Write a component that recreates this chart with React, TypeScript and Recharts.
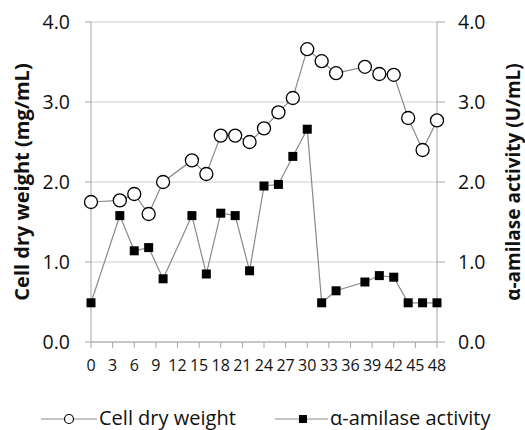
import React from "react";
import {
  LineChart,
  Line,
  XAxis,
  YAxis,
  CartesianGrid,
  Legend,
  Label,
} from "recharts";

const hours = [0, 4, 6, 8, 10, 14, 16, 18, 20, 22, 24, 26, 28, 30, 32, 34, 38, 40, 42, 44, 46, 48];
const cellDryWeight = [1.75, 1.77, 1.85, 1.6, 2.0, 2.27, 2.1, 2.58, 2.58, 2.5, 2.67, 2.87, 3.05, 3.66, 3.51, 3.36, 3.44, 3.35, 3.34, 2.8, 2.4, 2.77];
const amylaseActivity = [0.49, 1.58, 1.14, 1.18, 0.79, 1.58, 0.85, 1.61, 1.58, 0.89, 1.95, 1.97, 2.32, 2.66, 0.49, 0.64, 0.75, 0.83, 0.81, 0.49, 0.49, 0.49];
const xTicks = [0, 3, 6, 9, 12, 15, 18, 21, 24, 27, 30, 33, 36, 39, 42, 45, 48];
const yTicks = [0, 1, 2, 3, 4];
const seriesNames = ["Cell dry weight", "α-amilase activity"];
const axisTitles = ["Cell dry weight (mg/mL)", "α-amilase activity (U/mL)"];

const data = hours.map((t, i) => ({ t, cdw: cellDryWeight[i], amy: amylaseActivity[i] }));

const FONT = "'Open Sans', sans-serif";
const LINE = "#8a8a8a";
const AXIS = "#a6a6a6";
const GRID = "#cfcfcf";
const TXT = "#111";

const Square = (props: any) => {
  const { cx, cy } = props;
  if (cx == null || cy == null) return null;
  return <rect x={cx - 4.5} y={cy - 4.5} width={9} height={9} fill="#000" />;
};

const LeftTitle = (props: any) => {
  const vb = props.viewBox || {};
  const x = (vb.x || 0) + 21;
  const y = (vb.y || 0) + (vb.height || 0) / 2;
  return (
    <text
      x={x}
      y={y}
      transform={`rotate(-90 ${x} ${y})`}
      textAnchor="middle"
      dominantBaseline="central"
      fontFamily={FONT}
      fontWeight={700}
      fontSize={20}
      fill={TXT}
    >
      {axisTitles[0]}
    </text>
  );
};

const RightTitle = (props: any) => {
  const vb = props.viewBox || {};
  const x = (vb.x || 0) + 76;
  const y = (vb.y || 0) + (vb.height || 0) / 2;
  return (
    <text
      x={x}
      y={y}
      transform={`rotate(-90 ${x} ${y})`}
      textAnchor="middle"
      dominantBaseline="central"
      fontFamily={FONT}
      fontWeight={700}
      fontSize={19}
      fill={TXT}
    >
      {axisTitles[1]}
    </text>
  );
};

const LegendContent = () => (
  <div style={{ position: "relative", width: 525, height: 40, fontFamily: FONT, fontSize: 20, color: TXT }}>
    <svg width={525} height={40} style={{ position: "absolute", left: 0, top: 0 }}>
      <line x1={41} y1={29} x2={97} y2={29} stroke={LINE} strokeWidth={1.2} />
      <circle cx={69} cy={29} r={4.5} fill="#fff" stroke="#000" strokeWidth={1.2} />
      <line x1={275} y1={29} x2={328} y2={29} stroke={LINE} strokeWidth={1.2} />
      <rect x={299} y={25} width={8} height={8} fill="#000" />
    </svg>
    <span style={{ position: "absolute", left: 99, top: 16, height: 24, lineHeight: "24px", whiteSpace: "nowrap" }}>{seriesNames[0]}</span>
    <span style={{ position: "absolute", left: 330, top: 16, height: 24, lineHeight: "24px", whiteSpace: "nowrap" }}>{seriesNames[1]}</span>
  </div>
);

export default function App() {
  return (
    <div style={{ position: "absolute", left: 0, top: 0, width: 525, height: 430, background: "#fff" }}>
      <LineChart width={525} height={430} data={data} margin={{ top: 22, right: 0, bottom: 0, left: 0 }}>
        <CartesianGrid yAxisId="left" vertical={false} horizontal={true} stroke={GRID} strokeWidth={1} />
        <XAxis
          dataKey="t"
          type="number"
          domain={[0, 48]}
          ticks={xTicks}
          interval={0}
          height={48}
          tickSize={6}
          tickMargin={12}
          axisLine={{ stroke: AXIS }}
          tickLine={{ stroke: AXIS }}
          tick={{ fill: TXT, fontFamily: FONT, fontSize: 16 }}
        />
        <YAxis
          yAxisId="left"
          domain={[0, 4]}
          ticks={yTicks}
          interval={0}
          width={91}
          tickSize={6}
          tickMargin={15}
          tickFormatter={(v: number) => v.toFixed(1)}
          axisLine={{ stroke: AXIS }}
          tickLine={{ stroke: AXIS }}
          tick={{ fill: TXT, fontFamily: FONT, fontSize: 19.5 }}
        >
          <Label content={<LeftTitle />} />
        </YAxis>
        <YAxis
          yAxisId="right"
          orientation="right"
          domain={[0, 4]}
          ticks={yTicks}
          interval={0}
          width={88}
          tickSize={8}
          tickMargin={13}
          tickFormatter={(v: number) => v.toFixed(1)}
          axisLine={{ stroke: AXIS }}
          tickLine={{ stroke: AXIS }}
          tick={{ fill: TXT, fontFamily: FONT, fontSize: 19.5 }}
        >
          <Label content={<RightTitle />} />
        </YAxis>
        <Legend verticalAlign="bottom" height={40} content={<LegendContent />} />
        <Line
          yAxisId="left"
          dataKey="cdw"
          name={seriesNames[0]}
          stroke={LINE}
          strokeWidth={1.2}
          dot={{ r: 6.5, fill: "#fff", stroke: "#000", strokeWidth: 1.3 }}
          activeDot={false}
          isAnimationActive={false}
        />
        <Line
          yAxisId="right"
          dataKey="amy"
          name={seriesNames[1]}
          stroke={LINE}
          strokeWidth={1.2}
          dot={<Square />}
          activeDot={false}
          isAnimationActive={false}
        />
      </LineChart>
    </div>
  );
}
